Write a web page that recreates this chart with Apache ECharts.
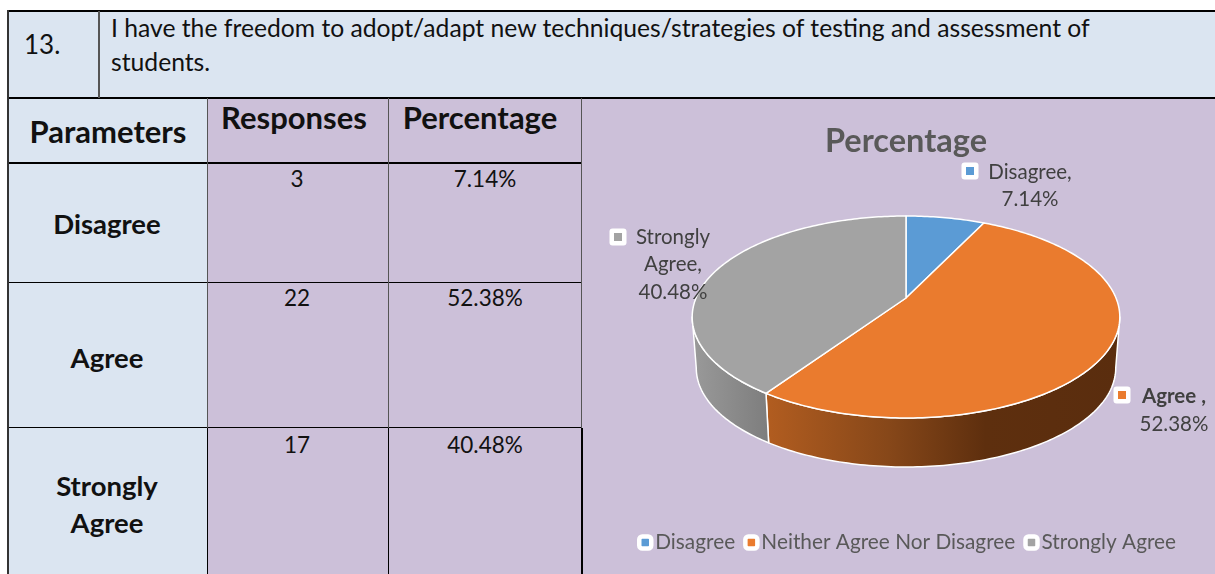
<!DOCTYPE html>
<html>
<head>
<meta charset="utf-8">
<title>Percentage</title>
<script src="https://cdn.jsdelivr.net/npm/echarts@6/dist/echarts.min.js"></script>
<style>
  html, body { margin: 0; padding: 0; width: 1215px; height: 574px; overflow: hidden; background: #fff; }
  body { font-family: Lato, "Noto Sans", sans-serif; color: #111; }
  .cell { position: absolute; }
  .line { position: absolute; background: #000; }
  .txt { position: absolute; white-space: nowrap; transform: translate(-50%, -50%); line-height: 1; }
  .bold { font-weight: bold; }
  #chart { position: absolute; left: 0; top: 0; width: 1215px; height: 574px; }
</style>
</head>
<body>
<div id="page"></div>
<div id="chart"></div>
<script>
const questionNo = '13.';
const questionLines = [
  'I have the freedom to adopt/adapt new techniques/strategies of testing and assessment of',
  'students.'
];
const tableHeaders = ['Parameters', 'Responses', 'Percentage'];
const parameterLines = [['Disagree'], ['Agree'], ['Strongly', 'Agree']];
const responses = ['3', '22', '17'];
const percentLabels = ['7.14%', '52.38%', '40.48%'];

const chartTitle = 'Percentage';
const legendNames = ['Disagree', 'Neither Agree Nor Disagree', 'Strongly Agree'];
const sliceValues = [7.14, 52.38, 40.48];
const sliceColors = ['#5b9bd5', '#ea7b2e', '#a3a3a3'];

// table backdrop and text
const page = document.getElementById('page');
const BLUE = '#dbe5f1';
const PURPLE = '#ccc0d9';

const addBox = (cls, x, y, w, h, color) => {
  const el = document.createElement('div');
  el.className = cls;
  el.style.cssText = `left:${x}px;top:${y}px;width:${w}px;height:${h}px;background:${color}`;
  page.appendChild(el);
};
const addText = (text, x, y, size, bold, leftAlign) => {
  const el = document.createElement('div');
  el.className = 'txt' + (bold ? ' bold' : '');
  el.textContent = text;
  el.style.cssText = `left:${x}px;top:${y}px;font-size:${size}px`;
  if (leftAlign) el.style.transform = 'translate(0,-50%)';
  page.appendChild(el);
};

addBox('cell', 8, 11, 1207, 87, BLUE);
addBox('cell', 8, 98, 199, 476, BLUE);
addBox('cell', 207, 98, 1008, 476, PURPLE);

addBox('line', 7, 10, 1208, 2, '#000');
addBox('line', 7, 97, 1208, 2, '#000');
addBox('line', 7, 162, 575, 2, '#000');
addBox('line', 7, 282, 575, 1, '#000');
addBox('line', 7, 427, 575, 1, '#000');
addBox('line', 7, 10, 2, 564, '#333');
addBox('line', 98, 11, 2, 87, '#555');
addBox('line', 207, 98, 1, 330, '#555');
addBox('line', 388, 98, 1, 330, '#555');
addBox('line', 581, 98, 1, 330, '#555');
addBox('line', 207, 428, 1, 146, '#000');
addBox('line', 388, 428, 1, 146, '#000');
addBox('line', 581, 428, 2, 146, '#000');

addText(questionNo, 24, 44, 26, false, true);
addText(questionLines[0], 111, 28, 24.7, false, true);
addText(questionLines[1], 111, 62, 24.7, false, true);

addText(tableHeaders[0], 108, 131, 31, true);
addText(tableHeaders[1], 294, 117, 31, true);
addText(tableHeaders[2], 480, 117, 31, true);

const parameterY = [[224], [358], [486, 523]];
const valueY = [179, 298, 445];
parameterLines.forEach((lines, i) => {
  lines.forEach((line, j) => addText(line, 107, parameterY[i][j], 27.5, true));
  addText(responses[i], 297, valueY[i], 22.5);
  addText(percentLabels[i], 485, valueY[i], 22.5);
});

// pie geometry, the top and bottom rims are projected circles
const PIE_X = 906;
const TILT = 0.188;
const TOP_RIM = { cy: 298, rx: 210, ry: 97.4 };
const BOTTOM_RIM = { cy: 349.4, rx: 206, ry: 95.5 };
const SILHOUETTE = [100.8, 259.2];

const project = (rim, deg) => {
  const a = deg * Math.PI / 180;
  const w = 1 + TILT * Math.cos(a);
  return [PIE_X + rim.rx * Math.sin(a) / w, rim.cy - rim.ry * Math.cos(a) / w];
};
const arc = (rim, from, to) => {
  const pts = [];
  const steps = Math.max(2, Math.ceil(Math.abs(to - from)));
  for (let i = 0; i <= steps; i++) pts.push(project(rim, from + (to - from) * i / steps));
  return pts;
};

const total = sliceValues.reduce((a, b) => a + b, 0);
const startAngle = (index) =>
  sliceValues.slice(0, index).reduce((a, b) => a + b, 0) / total * 360;

const wallFills = [
  null,
  new echarts.graphic.LinearGradient(0, 0, 1, 0, [
    { offset: 0, color: '#b25d20' },
    { offset: 0.35, color: '#864719' },
    { offset: 0.62, color: '#5e2f0e' },
    { offset: 1, color: '#5a2d0e' }
  ]),
  new echarts.graphic.LinearGradient(0, 0, 1, 0, [
    { offset: 0, color: '#9a9a9a' },
    { offset: 1, color: '#7d7d7d' }
  ])
];

// data label: small framed swatch plus centred text lines
const labelLayout = [
  { box: [970, 171], x: 1030, y: [172, 199], bold: [false, false] },
  { box: [1122, 395], x: 1174, y: [396, 424], bold: [true, false] },
  { box: [618, 237], x: 673, y: [237, 264, 292], bold: [false, false, false] }
];
const labelLines = [
  ['Disagree,', percentLabels[0]],
  ['Agree ,', percentLabels[1]],
  ['Strongly', 'Agree,', percentLabels[2]]
];

const renderSlice = (index) => (params, api) => {
  const value = api.value(0);
  const from = startAngle(index);
  const to = from + value / total * 360;
  const children = [];

  const wallFrom = Math.max(from, SILHOUETTE[0]);
  const wallTo = Math.min(to, SILHOUETTE[1]);
  if (wallTo > wallFrom) {
    const top = arc(TOP_RIM, wallFrom, wallTo);
    const bottom = arc(BOTTOM_RIM, wallFrom, wallTo).reverse();
    children.push({
      type: 'polygon',
      shape: { points: top.concat(bottom) },
      style: { fill: wallFills[index], stroke: '#fff', lineWidth: 1.5, lineJoin: 'round' }
    });
  }

  children.push({
    type: 'polygon',
    shape: { points: [[PIE_X, TOP_RIM.cy]].concat(arc(TOP_RIM, from, to)) },
    style: { fill: sliceColors[index], stroke: '#fff', lineWidth: 1.5, lineJoin: 'round' }
  });

  const layout = labelLayout[index];
  children.push({
    type: 'rect',
    shape: { x: layout.box[0] - 8.5, y: layout.box[1] - 8.5, width: 17, height: 17, r: 3 },
    style: { fill: '#fff' }
  });
  children.push({
    type: 'rect',
    shape: { x: layout.box[0] - 4, y: layout.box[1] - 4, width: 8, height: 8 },
    style: { fill: sliceColors[index] }
  });
  labelLines[index].forEach((line, i) => {
    children.push({
      type: 'text',
      style: {
        text: line,
        x: layout.x,
        y: layout.y[i],
        align: 'center',
        verticalAlign: 'middle',
        fill: '#404040',
        font: `${layout.bold[i] ? 'bold ' : ''}20.5px Lato, sans-serif`
      }
    });
  });

  return { type: 'group', children };
};

const chart = echarts.init(document.getElementById('chart'), null, { renderer: 'canvas' });
chart.setOption({
  animation: false,
  backgroundColor: 'transparent',
  title: {
    text: chartTitle,
    left: 901,
    top: 120,
    textAlign: 'center',
    textStyle: { color: '#595959', fontSize: 32.5, fontWeight: 'bold', fontFamily: 'Lato, sans-serif' }
  },
  legend: {
    left: 632,
    top: 527,
    icon: 'roundRect',
    itemWidth: 12,
    itemHeight: 12,
    itemGap: 8,
    data: legendNames,
    itemStyle: { borderColor: '#fff', borderWidth: 4.5 },
    textStyle: { color: '#595959', fontSize: 20.8, padding: [0, 0, 0, -1], fontFamily: 'Lato, sans-serif' }
  },
  series: legendNames.map((name, i) => ({
    type: 'custom',
    name,
    coordinateSystem: 'none',
    renderItem: renderSlice(i),
    itemStyle: { color: sliceColors[i] },
    data: [[sliceValues[i]]]
  }))
});

window.addEventListener('resize', () => chart.resize());
</script>
</body>
</html>
